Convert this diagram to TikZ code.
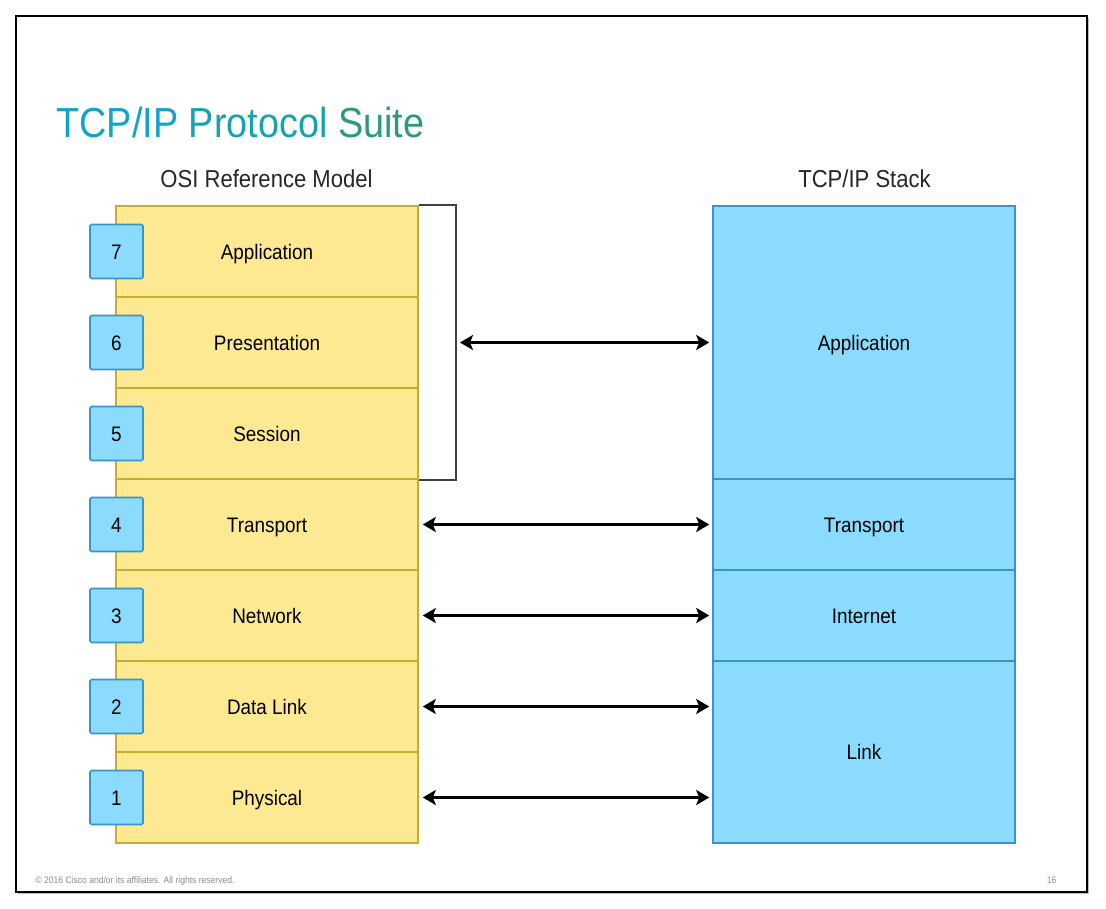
\documentclass[tikz,border=0pt]{standalone}
\usepackage{fontspec}
\setmainfont[FakeStretch=0.9]{Liberation Sans}
\usetikzlibrary{arrows.meta}
\definecolor{osifill}{HTML}{FDE991}
\definecolor{osiline}{HTML}{C9AB2E}
\definecolor{tcpfill}{HTML}{8ADBFE}
\definecolor{tcpline}{HTML}{3C94C6}
\definecolor{titleA}{HTML}{12A2CA}
\definecolor{titleB}{HTML}{16A3AE}
\definecolor{titleC}{HTML}{2A9A78}
\begin{document}
\begin{tikzpicture}[x = 1pt, y = -1pt]
\tikzstyle{LayerStyle}=[shape = rectangle,
                         minimum width = 302pt,
                         inner sep = 0pt,
                         text height = 15pt, text depth = 0pt,
                         font = \fontsize{21}{25}\selectfont,
                         line width = 1.6pt]
\tikzstyle{osi}=[LayerStyle, minimum height = 91pt, fill = osifill, draw = osiline]
\tikzstyle{tcp}=[LayerStyle, fill = tcpfill, draw = tcpline]
\tikzstyle{num}=[LayerStyle, minimum width = 53pt, minimum height = 54pt,
                 rounded corners = 1.5pt, fill = tcpfill, draw = tcpline]
\tikzstyle{head}=[anchor = base, font = \fontsize{24.5}{28}\selectfont, text = black!85]
\tikzstyle{post}=[{Stealth[length = 13pt, width = 15pt, inset = 3pt]}-{Stealth[length = 13pt, width = 15pt, inset = 3pt]},
                  line width = 2.6pt, shorten <= 4pt, shorten >= 3pt]
\tikzstyle{foot}=[anchor = base west, font = \fontsize{9.5}{11}\selectfont, text = black!45]
\useasboundingbox (0, 0) rectangle (1106, 908);
\fill[black!25] (18, 18) rectangle (1089, 894);
\draw[line width = 2.4pt, fill = white] (16, 16) rectangle (1087, 892);
\node[anchor = base west, font = \fontsize{42}{48}\selectfont] (title) at (53, 137)
  {\textcolor{titleA}{TCP/IP} \textcolor{titleB}{Protocol} \textcolor{titleC}{Suite}};
\node[head] (hosi) at (266.5, 187) {OSI Reference Model};
\node[head] (htcp) at (864.5, 187) {TCP/IP Stack};
\node[osi] (o7) at (267, 251.5) {Application};
\node[osi] (o6) at (267, 342.5) {Presentation};
\node[osi] (o5) at (267, 433.5) {Session};
\node[osi] (o4) at (267, 524.5) {Transport};
\node[osi] (o3) at (267, 615.5) {Network};
\node[osi] (o2) at (267, 706.5) {Data Link};
\node[osi] (o1) at (267, 797.5) {Physical};
\node[num] (n7) at (116.5, 251.5) {7};
\node[num] (n6) at (116.5, 342.5) {6};
\node[num] (n5) at (116.5, 433.5) {5};
\node[num] (n4) at (116.5, 524.5) {4};
\node[num] (n3) at (116.5, 615.5) {3};
\node[num] (n2) at (116.5, 706.5) {2};
\node[num] (n1) at (116.5, 797.5) {1};
\node[tcp, minimum height = 273pt] (t4) at (864, 342.5) {Application};
\node[tcp, minimum height = 91pt] (t3) at (864, 524.5) {Transport};
\node[tcp, minimum height = 91pt] (t2) at (864, 615.5) {Internet};
\node[tcp, minimum height = 182pt] (t1) at (864, 752) {Link};
\coordinate (bk) at (456, 342.5);
\draw[line width = 1.6pt, black!75] (o7.north east) -| (bk) |- (o5.south east);
\draw[post] (bk) -- (t4.west);
\draw[post] (o4.east) -- (t3.west);
\draw[post] (o3.east) -- (t2.west);
\draw[post] (o2.east) -- (o2.east -| t1.west);
\draw[post] (o1.east) -- (o1.east -| t1.west);
\node[foot] (copy) at (32, 883) {\textcopyright{} 2016 Cisco and/or its affiliates. All rights reserved.};
\node[foot, anchor = base east] (page) at (1060, 883) {16};
\end{tikzpicture}
\end{document}
